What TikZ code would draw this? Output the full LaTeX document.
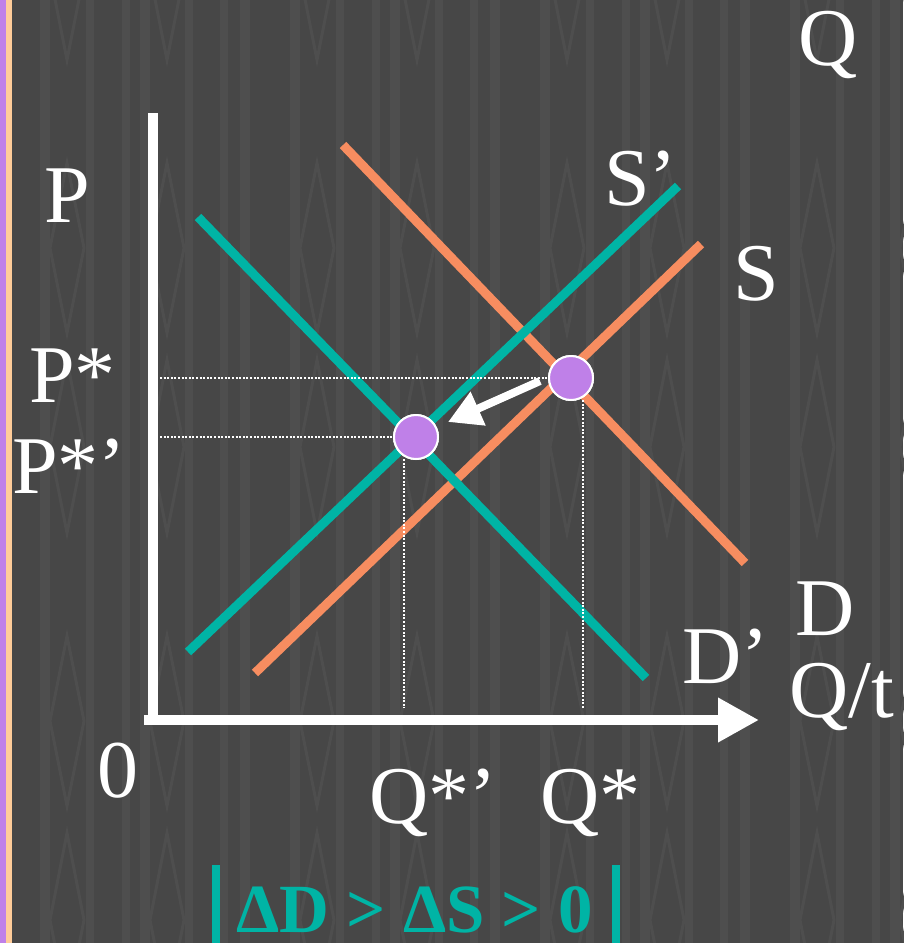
\documentclass[tikz,border=0pt]{standalone}
\usepackage{fontspec}
\setmainfont{Liberation Serif}
\usetikzlibrary{arrows.meta}
\definecolor{bg}{HTML}{474747}
\definecolor{stripe}{HTML}{4E4E4E}
\definecolor{tealc}{HTML}{00B4A5}
\definecolor{orng}{HTML}{F78D60}
\definecolor{purp}{HTML}{BF80E8}
\definecolor{peach}{HTML}{FFCC99}
\tikzset{
  lbl/.style={anchor=base west, inner sep=0pt, text=white, font=\fontsize{82}{90}\selectfont},
  curveT/.style={draw=tealc, line width=9pt},
  curveO/.style={draw=orng, line width=9pt},
  eqpt/.style={circle, fill=purp, draw=white, line width=2pt, minimum size=44pt, inner sep=0pt},
  guide/.style={draw=white, line width=1.5pt, dash pattern=on 2pt off 1.6pt},
  axisline/.style={draw=white, line width=10pt},
  diam/.style={draw=stripe, line width=3pt}
}
\begin{document}
\begin{tikzpicture}[x=1pt,y=-1pt]
\useasboundingbox (0,0) rectangle (903,943);
% background
\fill[bg] (0,0) rectangle (903,943);
\foreach \o in {0,250,500,750}{
  \foreach \a/\b in {40/50, 86/94, 122/130, 140/150, 185/193, 220/228, 240/250}{
    \fill[stripe] (\o+\a,0) rectangle (\o+\b,943);
  }
  \foreach \cx in {67,167}{
    \foreach \t in {-473,0,473,946}{
      \draw[diam] (\o+\cx,\t+163) -- (\o+\cx+17,\t+248) -- (\o+\cx,\t+333) -- (\o+\cx-17,\t+248) -- cycle;
      \draw[diam] (\o+\cx,\t+360) -- (\o+\cx+17,\t+447) -- (\o+\cx,\t+533) -- (\o+\cx-17,\t+447) -- cycle;
    }
  }
}
\fill[purp] (0,0) rectangle (6,943);
\fill[peach] (6,0) rectangle (12,943);

% axes
\coordinate (ytop) at (153,113);
\coordinate (ybot) at (153,725);
\coordinate (xstart) at (144,720);
\coordinate (xtip) at (759,720);
\draw[axisline] (ytop) -- (ybot);
\draw[axisline, -{Triangle[length=41pt,width=42pt]}] (xstart) -- (xtip);

% curves
\coordinate (d1) at (343,145);  \coordinate (d2) at (745,563);
\coordinate (s1) at (255,673);  \coordinate (s2) at (701,244);
\coordinate (dp1) at (198,217); \coordinate (dp2) at (646,678);
\coordinate (sp1) at (188,652); \coordinate (sp2) at (678,186);
\draw[curveO] (d1) -- (d2);
\draw[curveO] (s1) -- (s2);
\draw[curveT] (dp1) -- (dp2);
\draw[curveT] (sp1) -- (sp2);

% guides
\coordinate (h1) at (160,378);
\coordinate (h2) at (160,437);
\coordinate (v1t) at (404,459);
\coordinate (v1b) at (404,708);
\coordinate (v2t) at (583,400);
\coordinate (v2b) at (583,708);
\node[eqpt] (e1) at (571,378) {};
\node[eqpt] (e2) at (416,437) {};
\draw[guide] (h1) -- (e1.west);
\draw[guide] (h2) -- (e2.west);
\draw[guide] (v1t) -- (v1b);
\draw[guide] (v2t) -- (v2b);
\node[eqpt] at (e1) {};
\node[eqpt] at (e2) {};

% shift arrow
\coordinate (a1) at (540,381);
\coordinate (a2) at (448,422);
\draw[draw=white, line width=8pt, -{Triangle[length=33pt,width=35pt]}] (a1) -- (a2);

% labels
\node[lbl] (lQ) at (798,65) {Q};
\node[lbl] (lP) at (44,222) {P};
\node[lbl] (lPs) at (29,402) {P*};
\node[lbl] (lPsp) at (12,493) {P*’};
\node[lbl] (l0) at (97,797) {0};
\node[lbl] (lQsp) at (369,823) {Q*’};
\node[lbl] (lQs) at (540,823) {Q*};
\node[lbl] (lSp) at (604,205) {S’};
\node[lbl] (lS) at (733,300) {S};
\node[lbl] (lDp) at (682,683) {D’};
\node[lbl] (lD) at (795,635) {D};
\node[lbl] (lQt) at (789,717) {Q/t};

% bottom condition
\fill[tealc] (212,865) rectangle (220,943);
\fill[tealc] (612,865) rectangle (620,943);
\node[anchor=base west, inner sep=0pt, text=tealc, font=\fontsize{69}{75}\selectfont\bfseries] (cond) at (236,932) {ΔD > ΔS > 0};
\end{tikzpicture}
\end{document}
